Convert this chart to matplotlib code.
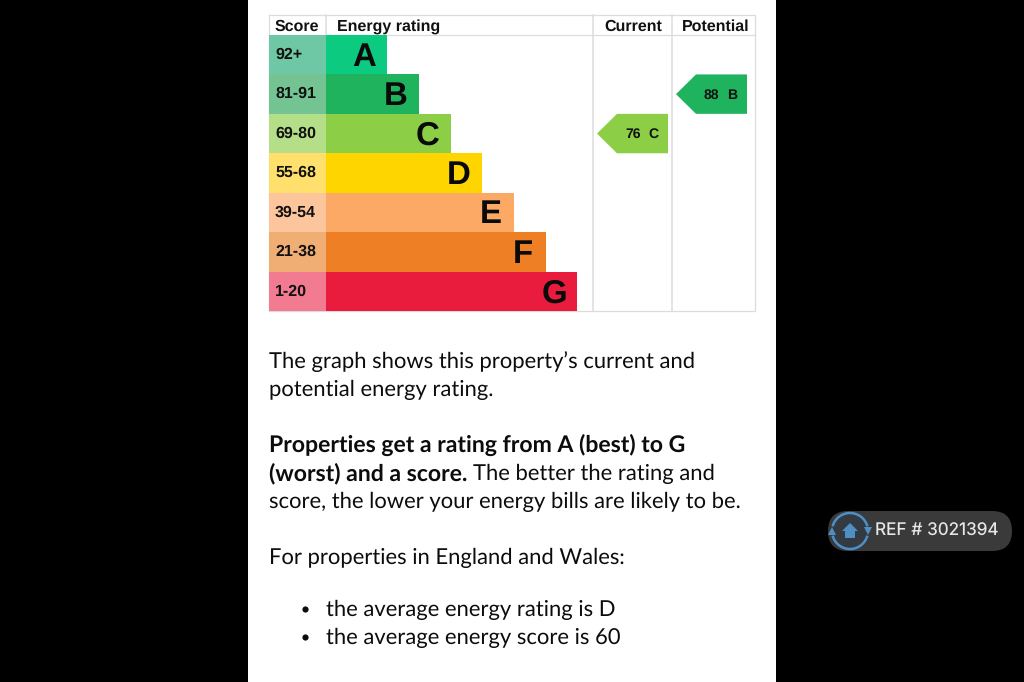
"""EPC energy rating chart on a phone screenshot."""
import matplotlib

matplotlib.use("Agg")
import matplotlib.pyplot as plt
from matplotlib.patches import Arc, Circle, FancyBboxPatch, Polygon, Rectangle

ranges = ["92+", "81-91", "69-80", "55-68", "39-54", "21-38", "1-20"]
letters = ["A", "B", "C", "D", "E", "F", "G"]
bar_lengths = [61, 93, 125, 156, 188, 220, 251]
bar_colors = ["#0ccb80", "#20b35d", "#8ccf46", "#ffd500", "#fca966", "#ee7f24", "#e91c3e"]
score_colors = ["#6ec7a5", "#74c493", "#b5de88", "#ffe06d", "#fdc59c", "#f1ae74", "#f27b92"]
current_score, current_row = 76, 2
potential_score, potential_row = 88, 1
body_lines = [
    ("The graph shows this property’s current and", 362),
    ("potential energy rating.", 390),
    ("score, the lower your energy bills are likely to be.", 502),
    ("For properties in England and Wales:", 558),
]
bullets = [("the average energy rating is D", 610), ("the average energy score is 60", 638)]
ref_label = "REF # 3021394"

plt.rcParams["text.hinting"] = "no_hinting"
plt.rcParams["text.hinting_factor"] = 1

LINE = "#dcdcdc"
CHART_FONT = "Liberation Sans"
BODY_FONT = "Lato"
BODY_SIZE = 15.6
BOLD_SIZE = 16.6
TEXT = "#0b0c0c"
BLUE = "#4f8fc4"

fig = plt.figure(figsize=(10.24, 6.82), dpi=100, facecolor="black")
ax = fig.add_axes([0, 0, 1, 1])
ax.set_xlim(0, 1024)
ax.set_ylim(682, 0)
ax.axis("off")

# white page
ax.add_patch(Rectangle((248, 0), 528, 682, color="white", lw=0, zorder=0))

# table grid
top, head, bottom = 15, 35, 311
left, bar_x, col_cur, col_pot, right = 269, 326, 593, 672, 755
ax.plot([left, right, right, left, left], [top, top, bottom, bottom, top], color=LINE, lw=0.9, zorder=1)
ax.plot([left, right], [head, head], color=LINE, lw=0.9, zorder=1)
for x in (bar_x, col_cur, col_pot):
    ax.plot([x, x], [top, bottom], color=LINE, lw=1.1, zorder=1)

for x, name in [(275, "Score"), (337, "Energy rating"), (604, "Current"), (682, "Potential")]:
    ax.text(x, 27, name, fontsize=11.3, fontweight="bold", family=CHART_FONT, va="center", color="#111111", zorder=4)

# bars
row_h = (bottom - head) / len(ranges)
rows = [head + row_h * (i + 0.5) for i in range(len(ranges))]
ax.barh(rows, [bar_x - left] * 7, row_h, left=left, color=score_colors, zorder=2)
ax.barh(rows, bar_lengths, row_h, left=bar_x, color=bar_colors, zorder=2)
for y, r, l, w in zip(rows, ranges, letters, bar_lengths):
    ax.text(275, y, r, fontsize=11.4, fontweight="bold", family=CHART_FONT, va="center", color="#111111", zorder=4)
    ax.text(bar_x + w - 23, y + 2.5, l, fontsize=24, fontweight="bold", family=CHART_FONT,
            va="center", ha="center", color="#0a0a0a", zorder=4)


def arrow(x0, x1, row, score):
    y = rows[row]
    pts = [(x0, y), (x0 + 20, y - row_h / 2), (x1, y - row_h / 2), (x1, y + row_h / 2), (x0 + 20, y + row_h / 2)]
    ax.add_patch(Polygon(pts, closed=True, color=bar_colors[row], lw=0, zorder=2))
    ax.text(x1 - 43, y + 1, str(score), fontsize=10, fontweight="bold", family=CHART_FONT,
            va="center", color="#111111", zorder=4)
    ax.text(x1 - 20, y + 1, letters[row], fontsize=10, fontweight="bold", family=CHART_FONT,
            va="center", color="#111111", zorder=4)


arrow(597, 668, current_row, current_score)
arrow(676, 747, potential_row, potential_score)

# body text
for line, y in body_lines:
    ax.text(269, y, line, fontsize=BODY_SIZE, family=BODY_FONT, va="center", color=TEXT)
ax.text(269, 445, "Properties get a rating from A (best) to G", fontsize=BOLD_SIZE, fontweight="bold",
        family=BODY_FONT, va="center", color=TEXT)
ax.text(269, 473, "(worst) and a score.", fontsize=BOLD_SIZE, fontweight="bold", family=BODY_FONT,
        va="center", color=TEXT)
ax.text(473, 474, "The better the rating and", fontsize=BODY_SIZE, family=BODY_FONT, va="center", color=TEXT)
for line, y in bullets:
    ax.text(326, y, line, fontsize=BODY_SIZE, family=BODY_FONT, va="center", color=TEXT)
    ax.scatter([305], [y - 1], s=20, color=TEXT, lw=0, zorder=3)

# REF badge
ax.add_patch(FancyBboxPatch((828, 511), 184, 40, boxstyle="round,pad=0,rounding_size=20",
                            color="#3a3a3a", lw=0, zorder=2))
ax.add_patch(Circle((850, 531), 20, color="#333a42", lw=0, zorder=2))
ax.add_patch(Arc((850, 531), 36, 36, theta1=195, theta2=345, color=BLUE, lw=1.8, zorder=3))
ax.add_patch(Arc((850, 531), 36, 36, theta1=15, theta2=165, color=BLUE, lw=1.8, zorder=3))
ax.add_patch(Polygon([(828, 535), (836, 535), (832, 527)], closed=True, color=BLUE, lw=0, zorder=3))
ax.add_patch(Polygon([(864, 527), (872, 527), (868, 535)], closed=True, color=BLUE, lw=0, zorder=3))
ax.add_patch(Polygon([(842, 531), (850, 523), (858, 531), (855, 531), (855, 538), (845, 538), (845, 531)],
                     closed=True, color=BLUE, lw=0, zorder=3))
ax.text(875, 531, ref_label, fontsize=12.4, family="Inter", va="center", color="#e8e8e8", zorder=4)

fig.savefig("out.png", dpi=100, facecolor="black")
